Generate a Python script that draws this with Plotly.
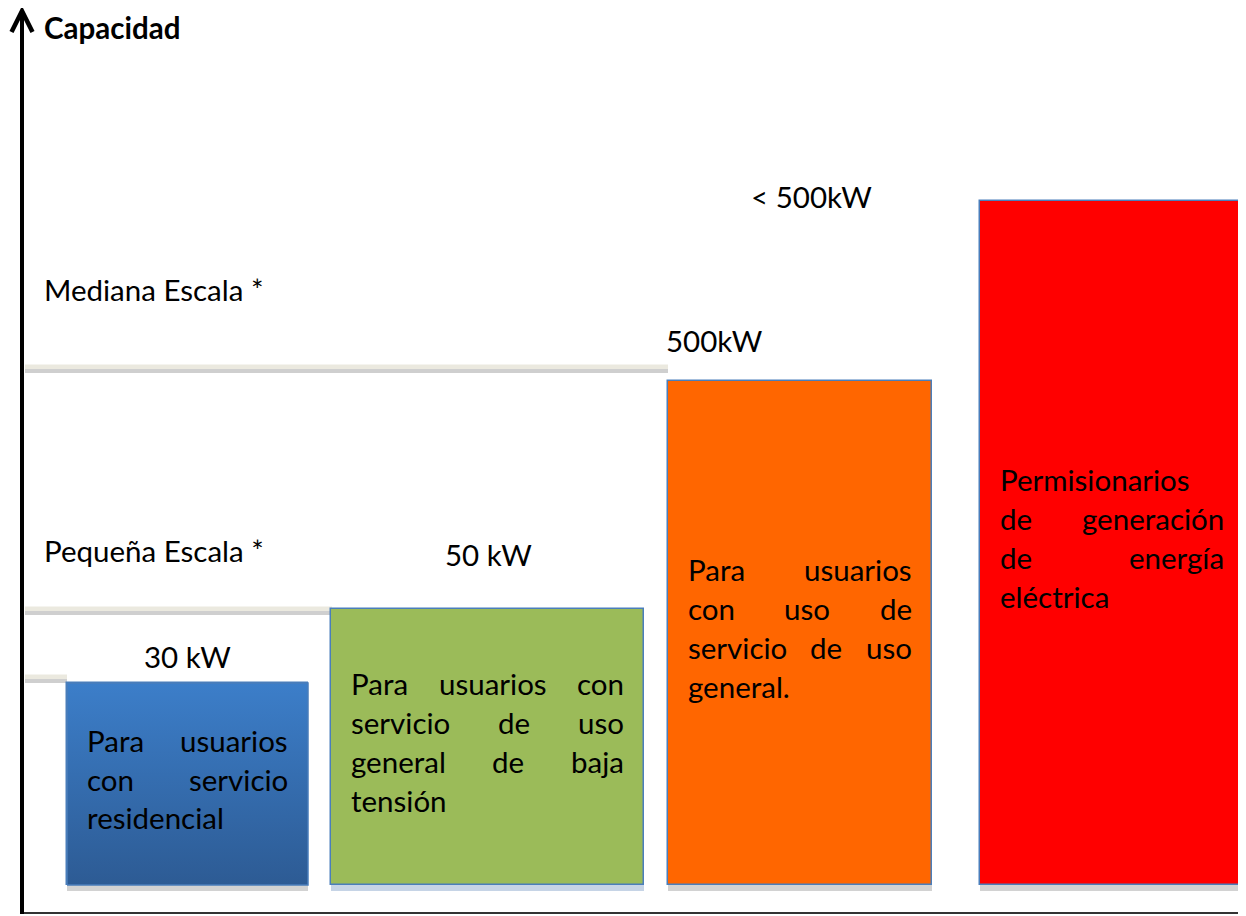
import plotly.graph_objects as go

# ---------------- data (diagram units: pixels above the baseline) ----------------
categories = ["residencial", "baja_tension", "uso_general", "permisionarios"]
bar_left = [67, 331, 668, 980]
bar_right = [308, 644, 932, 1244]
bar_base = [29, 29, 29, 29]
bar_top = [231, 305, 533, 713]
bar_colors = ["#3672bb", "#9bbb59", "#ff6600", "#ff0000"]
blue_gradient = ["#2d5b94", "#3c7ec9"]
shadow_colors = ["#d2d2d2", "#c6d4e6", "#d2d2d2", "#d2d2d2"]
bar_texts = [
    ["Para usuarios", "con servicio", "residencial"],
    ["Para usuarios con", "servicio de uso", "general de baja", "tensión"],
    ["Para usuarios", "con uso de", "servicio de uso", "general."],
    ["Permisionarios", "de generación", "de energía", "eléctrica"],
]

threshold_levels = [545, 303, 235]
threshold_right = [668, 332, 67]

labels = ["< 500kW", "Mediana Escala *", "500kW", "Pequeña Escala *", "50 kW", "30 kW"]
label_x = [811, 45, 667, 45, 488, 187]
label_y = [718, 625, 574, 364, 360, 258]
label_anchor = ["center", "left", "left", "left", "center", "center"]

axis_title = "Capacidad"

# ---------------- figure ----------------
OFF = 8  # default page margin of the html body
W, H = 1246, 916
FONT = "Lato, Carlito, Calibri, sans-serif"
FS = 29.5
EM = 31.5  # reference (Calibri) em size used to lay out justified words
LINE_H = 38.8
PAD = 21.5

cal = {
    'a': .479, 'b': .525, 'c': .423, 'd': .525, 'e': .498, 'f': .305, 'g': .471, 'h': .525,
    'i': .229, 'j': .239, 'k': .455, 'l': .229, 'm': .799, 'n': .525, 'o': .527, 'p': .525,
    'q': .525, 'r': .349, 's': .391, 't': .335, 'u': .525, 'v': .452, 'w': .715, 'x': .433,
    'y': .453, 'z': .395, 'P': .517, '.': .252, 'é': .498, 'í': .229, 'ó': .527, 'ñ': .525,
}


def wwidth(w):
    return sum(cal.get(ch, .5) for ch in w) * EM


def txt_ann(x, y, text, xanchor):
    return dict(x=x, y=y, text=text, xanchor=xanchor, yanchor="middle", showarrow=False,
                borderpad=0, borderwidth=0,
                font=dict(size=FS, color="#000", family=FONT))


fig = go.Figure()

centers = [(l + r) / 2 for l, r in zip(bar_left, bar_right)]
widths = [r - l for l, r in zip(bar_left, bar_right)]
heights = [t - b for t, b in zip(bar_top, bar_base)]

# drop shadows
fig.add_trace(go.Bar(
    x=centers, width=widths, base=[b - 6 for b in bar_base], y=heights,
    marker=dict(color=shadow_colors, line=dict(width=0)),
    hoverinfo="skip", showlegend=False,
))
# boxes
fig.add_trace(go.Bar(
    x=centers, width=widths, base=bar_base, y=heights,
    marker=dict(color=bar_colors, line=dict(color="#4a7ebb", width=1.5)),
    hovertext=categories, hoverinfo="text", showlegend=False,
))
# gradient overlay on the first (blue) box
l0, r0, b0, t0 = bar_left[0], bar_right[0], bar_base[0], bar_top[0]
fig.add_trace(go.Scatter(
    x=[l0, r0, r0, l0, l0], y=[b0, b0, t0, t0, b0], mode="lines", fill="toself",
    fillgradient=dict(type="vertical", start=b0, stop=t0,
                      colorscale=[[0, blue_gradient[0]], [1, blue_gradient[1]]]),
    line=dict(color="#4a7ebb", width=1.5), hoverinfo="skip", showlegend=False,
))

annotations = []

# justified text inside each box
for lft, rgt, b, t, lines in zip(bar_left, bar_right, bar_base, bar_top, bar_texts):
    x0, x1 = lft + PAD - 1.5, rgt - PAD + 1.5
    mid = (b + t) / 2 + 5
    n = len(lines)
    for i, line in enumerate(lines):
        y = mid + ((n - 1) / 2 - i) * LINE_H
        words = line.split()
        last = (i == n - 1)
        if last or len(words) == 1:
            annotations.append(txt_ann(x0, y, line, "left"))
            continue
        ws = [wwidth(w) for w in words]
        gap = ((x1 - x0) - sum(ws)) / (len(words) - 1)
        pos = x0
        for j, (w, wd) in enumerate(zip(words, ws)):
            if j == 0:
                ax, xa = x0, "left"
            elif j == len(words) - 1:
                ax, xa = x1, "right"
            else:
                ax, xa = pos + wd / 2, "center"
            annotations.append(txt_ann(ax, y, w, xa))
            pos += wd + gap

# labels
for txt, x, y, a in zip(labels, label_x, label_y, label_anchor):
    annotations.append(txt_ann(x - (1.5 if a == "left" else 0), y, txt, a))

annotations.append(txt_ann(43.5, 887, "<b>" + axis_title + "</b>", "left"))

shapes = []
# threshold double lines
for lvl, xr in zip(threshold_levels, threshold_right):
    shapes.append(dict(type="rect", x0=25, x1=xr, y0=lvl, y1=lvl + 4.5, fillcolor="#ebe9df",
                       line=dict(width=0), layer="below"))
    shapes.append(dict(type="rect", x0=25, x1=xr, y0=lvl - 4, y1=lvl, fillcolor="#cfcfcf",
                       line=dict(width=0), layer="below"))

# axes
shapes.append(dict(type="line", x0=21, x1=1246, y0=0.5, y1=0.5, line=dict(color="#333", width=3)))
shapes.append(dict(type="line", x0=22, x1=22, y0=0, y1=903, line=dict(color="#000", width=4)))
shapes.append(dict(type="path", path="M 11.5,882 L 22,903 L 32.5,882",
                   line=dict(color="#000", width=4.5)))

fig.update_layout(
    width=W - OFF, height=H - OFF,
    margin=dict(l=0, r=0, t=0, b=2, pad=0),
    paper_bgcolor="white", plot_bgcolor="white",
    barmode="overlay", bargap=0,
    xaxis=dict(range=[OFF, W], visible=False, fixedrange=True),
    yaxis=dict(range=[0, H - 2 - OFF], visible=False, fixedrange=True),
    annotations=annotations, shapes=shapes,
    showlegend=False,
)

fig.write_html(
    "out.html",
    post_script="document.documentElement.style.overflow='hidden';document.body.style.overflow='hidden';",
)
